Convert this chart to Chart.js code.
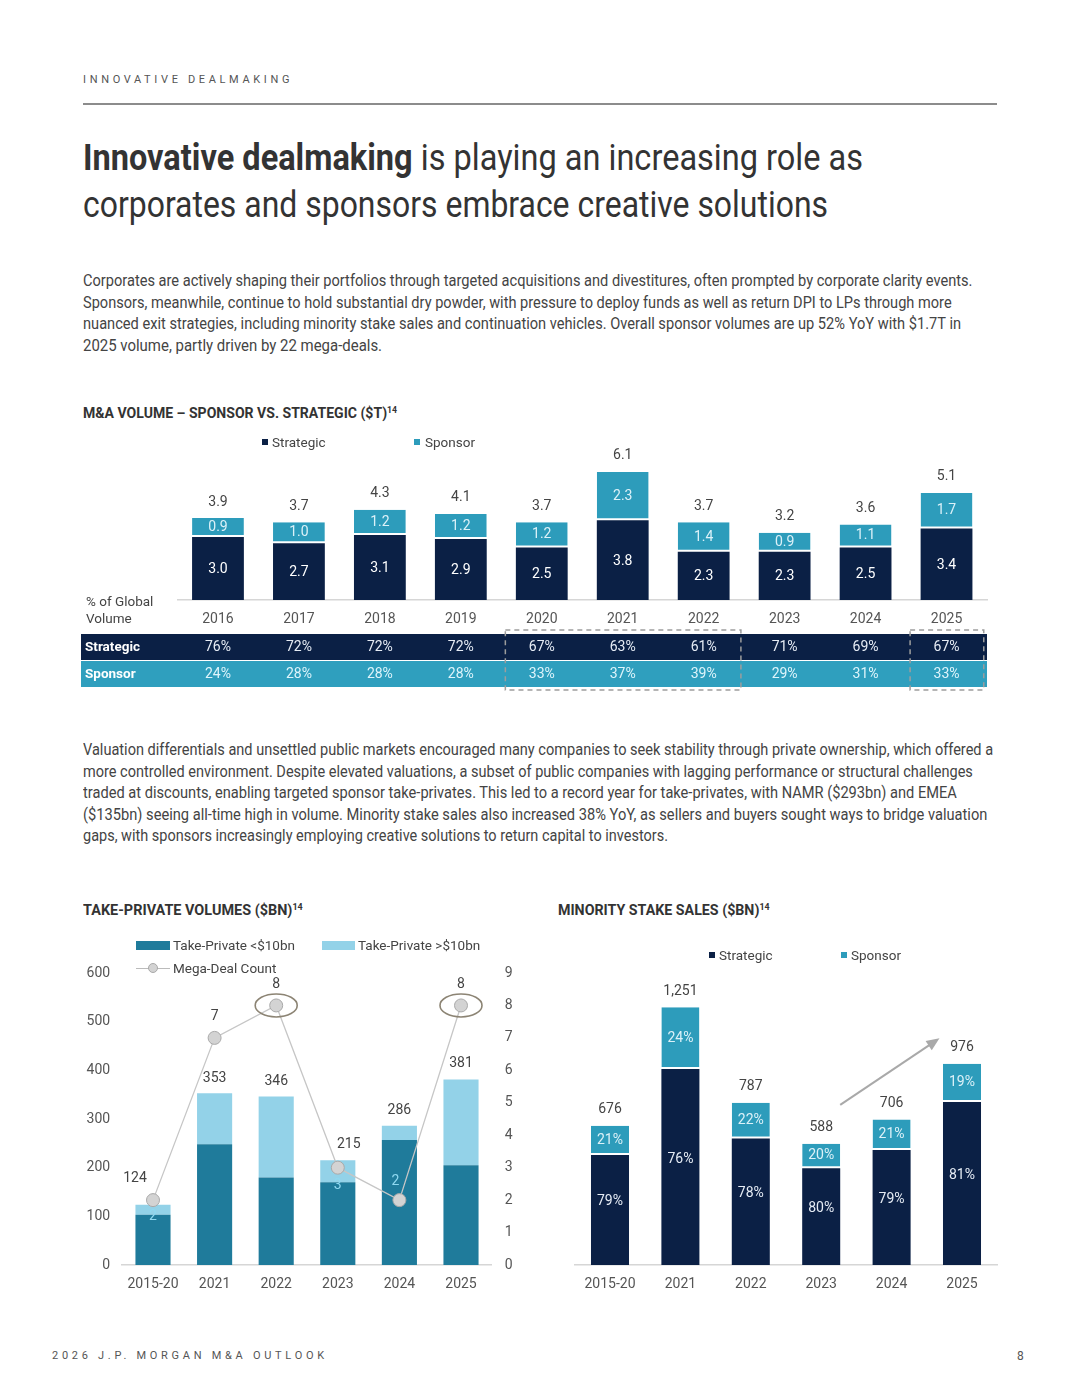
<!DOCTYPE html>
<html>
<head>
<meta charset="utf-8">
<title>Innovative dealmaking</title>
<script src="https://cdn.jsdelivr.net/npm/chart.js@4.4.1/dist/chart.umd.min.js"></script>
<style>
    html, body { margin: 0; padding: 0; background: #fff; }
    body { width: 1080px; height: 1391px; position: relative; overflow: hidden; font-family: Roboto, "Noto Sans", sans-serif; color: #444; }
    .abs { position: absolute; }
    .fit { display: inline-block; white-space: nowrap; transform-origin: 0 50%; }
    .kicker { left: 83px; top: 73px; font-size: 11px; line-height: 14px; letter-spacing: 3.65px; color: #555; }
    .rule { left: 83px; top: 103px; width: 914px; height: 2px; background: #8c8c8c; }
    .title { left: 83px; top: 134px; font-size: 37px; line-height: 47px; color: #333; }
    .title div { height: 47px; }
    .para { left: 83px; font-size: 17px; line-height: 21.6px; color: #444; }
    .para div { height: 21.6px; }
    .sec { font-size: 14.5px; line-height: 18px; font-weight: 700; color: #333; }
    .sec sup { font-size: 9px; vertical-align: 5px; line-height: 0; }
    .legend { font-size: 13.5px; line-height: 16px; color: #444; white-space: nowrap; }
    .chartbox { position: absolute; }
    .footer { left: 52px; top: 1349px; font-size: 11px; line-height: 14px; letter-spacing: 3.72px; color: #555; }
    .pageno { left: 1017px; top: 1349px; font-size: 12px; line-height: 14px; color: #555; }
</style>
</head>
<body>

<div class="abs kicker">INNOVATIVE DEALMAKING</div>
<div class="abs rule"></div>

<div class="abs title">
    <div><span class="fit" data-w="780"><b>Innovative dealmaking</b> is playing an increasing role as</span></div>
    <div><span class="fit" data-w="745">corporates and sponsors embrace creative solutions</span></div>
</div>

<div class="abs para" style="top:270px">
    <div><span class="fit" data-w="889">Corporates are actively shaping their portfolios through targeted acquisitions and divestitures, often prompted by corporate clarity events.</span></div>
    <div><span class="fit" data-w="869">Sponsors, meanwhile, continue to hold substantial dry powder, with pressure to deploy funds as well as return DPI to LPs through more</span></div>
    <div><span class="fit" data-w="878">nuanced exit strategies, including minority stake sales and continuation vehicles. Overall sponsor volumes are up 52% YoY with $1.7T in</span></div>
    <div><span class="fit" data-w="299">2025 volume, partly driven by 22 mega-deals.</span></div>
</div>

<div class="abs sec" style="left:83px;top:405px"><span class="fit" data-w="314">M&amp;A VOLUME – SPONSOR VS. STRATEGIC ($T)<sup>14</sup></span></div>
<div class="chartbox" style="left:0;top:430px;width:1080px;height:270px"><canvas id="volume-bar" width="1080" height="270"></canvas></div>

<div class="abs para" style="top:739px">
    <div><span class="fit" data-w="910">Valuation differentials and unsettled public markets encouraged many companies to seek stability through private ownership, which offered a</span></div>
    <div><span class="fit" data-w="890">more controlled environment. Despite elevated valuations, a subset of public companies with lagging performance or structural challenges</span></div>
    <div><span class="fit" data-w="874">traded at discounts, enabling targeted sponsor take-privates. This led to a record year for take-privates, with NAMR ($293bn) and EMEA</span></div>
    <div><span class="fit" data-w="904">($135bn) seeing all-time high in volume. Minority stake sales also increased 38% YoY, as sellers and buyers sought ways to bridge valuation</span></div>
    <div><span class="fit" data-w="585">gaps, with sponsors increasingly employing creative solutions to return capital to investors.</span></div>
</div>

<div class="abs sec" style="left:83px;top:902px"><span class="fit" data-w="220">TAKE-PRIVATE VOLUMES ($BN)<sup>14</sup></span></div>
<div class="chartbox" style="left:80px;top:925px;width:450px;height:380px"><canvas id="take-private-bar" width="450" height="380"></canvas></div>

<div class="abs sec" style="left:558px;top:902px"><span class="fit" data-w="212">MINORITY STAKE SALES ($BN)<sup>14</sup></span></div>
<div class="chartbox" style="left:550px;top:925px;width:460px;height:380px"><canvas id="minority-stake-bar" width="460" height="380"></canvas></div>

<div id="legends"></div>

<div class="abs footer">2026 J.P. MORGAN M&amp;A OUTLOOK</div>
<div class="abs pageno">8</div>

<script>
// ---- data: M&A volume, sponsor vs strategic ($T)
const years = ['2016', '2017', '2018', '2019', '2020', '2021', '2022', '2023', '2024', '2025'];
const volStrategic = [3.0, 2.7, 3.1, 2.9, 2.5, 3.8, 2.3, 2.3, 2.5, 3.4];
const volSponsor = [0.9, 1.0, 1.2, 1.2, 1.2, 2.3, 1.4, 0.9, 1.1, 1.7];
const volTotal = [3.9, 3.7, 4.3, 4.1, 3.7, 6.1, 3.7, 3.2, 3.6, 5.1];
const shareStrategic = [76, 72, 72, 72, 67, 63, 61, 71, 69, 67];
const shareSponsor = [24, 28, 28, 28, 33, 37, 39, 29, 31, 33];
const highlightedYears = [['2020', '2022'], ['2025', '2025']];

// ---- data: take-private volumes ($bn)
const tpPeriods = ['2015-20', '2021', '2022', '2023', '2024', '2025'];
const tpUnder10bn = [103, 248, 180, 170, 257, 205];
const tpOver10bn = [21, 105, 166, 45, 29, 176];
const tpTotal = [124, 353, 346, 215, 286, 381];
const megaDealCount = [2, 7, 8, 3, 2, 8];

// ---- data: minority stake sales ($bn)
const msPeriods = ['2015-20', '2021', '2022', '2023', '2024', '2025'];
const msStrategic = [534, 951, 614, 470, 558, 791];
const msSponsor = [142, 300, 173, 118, 148, 185];
const msTotal = [676, 1251, 787, 588, 706, 976];
const msStrategicPct = [79, 76, 78, 80, 79, 81];
const msSponsorPct = [21, 24, 22, 20, 21, 19];

const NAVY = '#0b2045';
const TEAL = '#2d9cbb';
const TABLE_TEAL = '#2f9fbe';
const TP_DARK = '#1f7b9b';
const TP_LIGHT = '#93d2e8';
const TEXT = '#444444';

// squeeze the condensed-looking text lines to their measured widths
function fitLines() {
    document.querySelectorAll('.fit').forEach(el => {
        const w = el.offsetWidth;
        el.style.transform = 'scaleX(' + (Number(el.dataset.w) / w) + ')';
    });
}
fitLines();
if (document.fonts) document.fonts.ready.then(fitLines);

Chart.defaults.font.family = 'Roboto, "Noto Sans", sans-serif';
Chart.defaults.color = '#555';
Chart.defaults.animation = false;

// helper for the html legends
const legendRoot = document.getElementById('legends');
const addLegend = (left, cy, swatch, text) => {
    const item = document.createElement('div');
    item.className = 'abs legend';
    item.style.left = left + 'px';
    item.style.top = (cy - 8) + 'px';
    item.style.display = 'flex';
    item.style.alignItems = 'center';
    item.appendChild(swatch);
    const label = document.createElement('span');
    label.textContent = text;
    item.appendChild(label);
    legendRoot.appendChild(item);
};
const square = (color, w, h, gap) => {
    const s = document.createElement('span');
    s.style.cssText = `display:inline-block;width:${w}px;height:${h}px;background:${color};margin-right:${gap}px`;
    return s;
};
const lineMarker = () => {
    const s = document.createElement('span');
    s.style.cssText = 'position:relative;display:inline-block;width:34px;height:10px;margin-right:3px';
    s.innerHTML = '<span style="position:absolute;left:0;right:0;top:4.5px;height:1px;background:#bbb"></span>' +
        '<span style="position:absolute;left:12px;top:0;width:8px;height:8px;border-radius:50%;background:#d3d3d3;border:1px solid #a9a9a9"></span>';
    return s;
};

// 1. M&A volume stacked bars + share table
const volumeExtras = {
    id: 'volumeExtras',
    afterDatasetsDraw(chart) {
        const { ctx, chartArea, scales: { x } } = chart;
        const strat = chart.getDatasetMeta(0).data;
        const spon = chart.getDatasetMeta(1).data;
        const spacing = x.getPixelForValue(1) - x.getPixelForValue(0);
        const b = chartArea.bottom;
        ctx.save();
        ctx.textAlign = 'center';
        ctx.textBaseline = 'middle';
        ctx.font = '14px Roboto';
        strat.forEach((bar, i) => {
            ctx.fillStyle = '#ffffff';
            ctx.fillText(volStrategic[i].toFixed(1), bar.x, (bar.y + bar.base) / 2 + 1);
            const s = spon[i];
            ctx.fillStyle = '#dcf1f8';
            ctx.fillText(volSponsor[i].toFixed(1), s.x, (s.y + s.base) / 2);
            ctx.fillStyle = TEXT;
            ctx.fillText(volTotal[i].toFixed(1), s.x, s.y - 16);
        });

        // "% of Global Volume"
        ctx.textAlign = 'left';
        ctx.font = '13.5px Roboto';
        ctx.fillText('% of Global', 86, b + 3);
        ctx.fillText('Volume', 86, b + 20);

        // share table
        const rows = [
            { label: 'Strategic', values: shareStrategic, fill: NAVY, ink: '#e6ecf5', top: b + 34 },
            { label: 'Sponsor', values: shareSponsor, fill: TABLE_TEAL, ink: '#def4fb', top: b + 61 }
        ];
        rows.forEach(row => {
            ctx.fillStyle = row.fill;
            ctx.fillRect(81, row.top, chartArea.right - 81, 26);
            ctx.fillStyle = '#ffffff';
            ctx.textAlign = 'left';
            ctx.font = 'bold 13.5px Roboto';
            ctx.fillText(row.label, 85, row.top + 13.5);
            ctx.fillStyle = row.ink;
            ctx.textAlign = 'center';
            ctx.font = '14px Roboto';
            row.values.forEach((v, i) => ctx.fillText(v + '%', x.getPixelForValue(i), row.top + 13.5));
        });

        // dashed highlight boxes
        ctx.strokeStyle = '#9d9d9d';
        ctx.lineWidth = 1.5;
        ctx.setLineDash([5, 4]);
        highlightedYears.forEach(([from, to]) => {
            const left = x.getPixelForValue(years.indexOf(from)) - 0.45 * spacing;
            const right = x.getPixelForValue(years.indexOf(to)) + 0.46 * spacing;
            ctx.strokeRect(left, b + 30, right - left, 60);
        });
        ctx.restore();
    }
};

const volumeChart = new Chart(document.getElementById('volume-bar'), {
    type: 'bar',
    data: {
        labels: years,
        datasets: [
            { label: 'Strategic', data: volStrategic, backgroundColor: NAVY },
            {
                label: 'Sponsor', data: volSponsor, backgroundColor: TEAL,
                borderColor: '#ffffff', borderWidth: { top: 0, left: 0, right: 0, bottom: 2 }, borderSkipped: false
            }
        ]
    },
    options: {
        responsive: false,
        layout: { padding: { left: 177.5, right: 93, top: 33.5, bottom: 61.2 } },
        categoryPercentage: 1,
        barPercentage: 0.64,
        plugins: { legend: { display: false }, tooltip: { enabled: false } },
        scales: {
            x: {
                stacked: true,
                grid: { display: false, drawTicks: false },
                border: { display: true, color: '#d6d6d6', width: 1.5 },
                ticks: { padding: 11, color: '#555', font: { size: 14 } }
            },
            y: { stacked: true, display: false, min: 0, max: 6.5 }
        }
    },
    plugins: [volumeExtras]
});
addLegend(262, 442, square(NAVY, 6, 6, 4), 'Strategic');
addLegend(414, 442, square(TEAL, 6, 6, 5), 'Sponsor');

// 2. Take-private volumes with mega-deal count
const takePrivateExtras = {
    id: 'takePrivateExtras',
    afterDatasetsDraw(chart, args, opts) {
        const { ctx } = chart;
        const top = chart.getDatasetMeta(1).data;
        const points = chart.getDatasetMeta(2).data;
        ctx.save();
        ctx.textAlign = 'center';
        ctx.textBaseline = 'middle';
        ctx.font = '14px Roboto';
        top.forEach((bar, i) => {
            const [dx, dy] = opts.totalOffsets[i];
            ctx.fillStyle = TEXT;
            ctx.fillText(String(tpTotal[i]), bar.x + dx, bar.y + dy);
        });
        const maxCount = Math.max(...megaDealCount);
        points.forEach((pt, i) => {
            const { dx, dy, color } = opts.countLabels[i];
            ctx.fillStyle = color;
            ctx.fillText(String(megaDealCount[i]), pt.x + dx, pt.y + dy);
            if (megaDealCount[i] === maxCount) {
                ctx.beginPath();
                ctx.ellipse(pt.x, pt.y, 21, 11.5, 0, 0, Math.PI * 2);
                ctx.strokeStyle = '#8c8474';
                ctx.lineWidth = 1.6;
                ctx.stroke();
            }
        });
        ctx.restore();
    }
};

const takePrivateChart = new Chart(document.getElementById('take-private-bar'), {
    type: 'bar',
    data: {
        labels: tpPeriods,
        datasets: [
            { label: 'Take-Private <$10bn', data: tpUnder10bn, backgroundColor: TP_DARK, order: 2 },
            { label: 'Take-Private >$10bn', data: tpOver10bn, backgroundColor: TP_LIGHT, order: 2 },
            {
                type: 'line', label: 'Mega-Deal Count', data: megaDealCount, yAxisID: 'y1', order: 1,
                borderColor: '#c6c6c6', borderWidth: 1.3, tension: 0,
                pointRadius: 6.5, pointBackgroundColor: '#d3d3d3', pointBorderColor: '#a9a9a9', pointBorderWidth: 1
            }
        ]
    },
    options: {
        responsive: false,
        layout: { padding: { left: 2.2, right: 8.2, top: 48, bottom: 1.2 } },
        categoryPercentage: 1,
        barPercentage: 0.57,
        plugins: {
            legend: { display: false },
            tooltip: { enabled: false },
            takePrivateExtras: {
                totalOffsets: [[-18, -26], [0, -15], [0, -15], [11, -16], [0, -15], [0, -16]],
                countLabels: [
                    { dx: 0, dy: 16, color: '#8fd8f0' },
                    { dx: 0, dy: -21, color: TEXT },
                    { dx: 0, dy: -21, color: TEXT },
                    { dx: 0, dy: 18, color: '#8fd8f0' },
                    { dx: -4, dy: -19, color: '#8fd8f0' },
                    { dx: 0, dy: -21, color: TEXT }
                ]
            }
        },
        scales: {
            x: {
                stacked: true,
                grid: { display: false, drawTicks: false },
                border: { display: true, color: '#d6d6d6', width: 1.5 },
                ticks: { padding: 11, color: '#555', font: { size: 14 } }
            },
            y: {
                stacked: true, min: 0, max: 600,
                grid: { display: false, drawTicks: false },
                border: { display: false },
                ticks: { stepSize: 100, padding: 12, color: '#555', font: { size: 14 } },
                afterFit(scale) { scale.width = 40; }
            },
            y1: {
                position: 'right', min: 0, max: 9,
                grid: { display: false, drawTicks: false },
                border: { display: false },
                ticks: { stepSize: 1, padding: 13, color: '#555', font: { size: 14 } },
                afterFit(scale) { scale.width = 30; }
            }
        }
    },
    plugins: [takePrivateExtras]
});
addLegend(136, 945, square(TP_DARK, 34, 9, 3), 'Take-Private <$10bn');
addLegend(322, 945, square(TP_LIGHT, 33, 9, 3), 'Take-Private >$10bn');
addLegend(136, 968, lineMarker(), 'Mega-Deal Count');

// 3. Minority stake sales
const minorityExtras = {
    id: 'minorityExtras',
    afterDatasetsDraw(chart, args, opts) {
        const { ctx, scales: { x, y } } = chart;
        const strat = chart.getDatasetMeta(0).data;
        const spon = chart.getDatasetMeta(1).data;
        const spacing = x.getPixelForValue(1) - x.getPixelForValue(0);
        ctx.save();
        ctx.textAlign = 'center';
        ctx.textBaseline = 'middle';
        ctx.font = '14px Roboto';
        strat.forEach((bar, i) => {
            ctx.fillStyle = '#e6ecf5';
            ctx.fillText(msStrategicPct[i] + '%', bar.x, (bar.y + bar.base) / 2 - 8);
            const s = spon[i];
            ctx.fillStyle = '#dcf1f8';
            ctx.fillText(msSponsorPct[i] + '%', s.x, (s.y + s.base) / 2);
            ctx.fillStyle = TEXT;
            ctx.fillText(msTotal[i].toLocaleString('en-US'), s.x, s.y - 16);
        });

        // growth arrow
        const a = opts.arrow;
        const x0 = x.getPixelForValue(a.from[0]) + a.from[1] * spacing;
        const y0 = y.getPixelForValue(a.from[2]);
        const x1 = x.getPixelForValue(a.to[0]) + a.to[1] * spacing;
        const y1 = y.getPixelForValue(a.to[2]);
        const ang = Math.atan2(y1 - y0, x1 - x0);
        ctx.strokeStyle = '#a9a9a9';
        ctx.fillStyle = '#a9a9a9';
        ctx.lineWidth = 2;
        ctx.beginPath();
        ctx.moveTo(x0, y0);
        ctx.lineTo(x1 - 10 * Math.cos(ang), y1 - 10 * Math.sin(ang));
        ctx.stroke();
        ctx.beginPath();
        ctx.moveTo(x1, y1);
        ctx.lineTo(x1 - 13 * Math.cos(ang) + 5.5 * Math.sin(ang), y1 - 13 * Math.sin(ang) - 5.5 * Math.cos(ang));
        ctx.lineTo(x1 - 13 * Math.cos(ang) - 5.5 * Math.sin(ang), y1 - 13 * Math.sin(ang) + 5.5 * Math.cos(ang));
        ctx.closePath();
        ctx.fill();
        ctx.restore();
    }
};

const minorityChart = new Chart(document.getElementById('minority-stake-bar'), {
    type: 'bar',
    data: {
        labels: msPeriods,
        datasets: [
            { label: 'Strategic', data: msStrategic, backgroundColor: NAVY },
            {
                label: 'Sponsor', data: msSponsor, backgroundColor: TEAL,
                borderColor: '#ffffff', borderWidth: { top: 0, left: 0, right: 0, bottom: 2 }, borderSkipped: false
            }
        ]
    },
    options: {
        responsive: false,
        layout: { padding: { left: 24.8, right: 12.8, top: 51.5, bottom: 1.2 } },
        categoryPercentage: 1,
        barPercentage: 0.54,
        plugins: {
            legend: { display: false },
            tooltip: { enabled: false },
            minorityExtras: { arrow: { from: [3, 0.27, 777], to: [4, 0.68, 1100] } }
        },
        scales: {
            x: {
                stacked: true,
                grid: { display: false, drawTicks: false },
                border: { display: true, color: '#d6d6d6', width: 1.5 },
                ticks: { padding: 11, color: '#555', font: { size: 14 } }
            },
            y: { stacked: true, display: false, min: 0, max: 1400 }
        }
    },
    plugins: [minorityExtras]
});
addLegend(709, 955, square(NAVY, 6, 6, 4), 'Strategic');
addLegend(841, 955, square(TEAL, 6, 6, 4), 'Sponsor');
</script>
</body>
</html>
